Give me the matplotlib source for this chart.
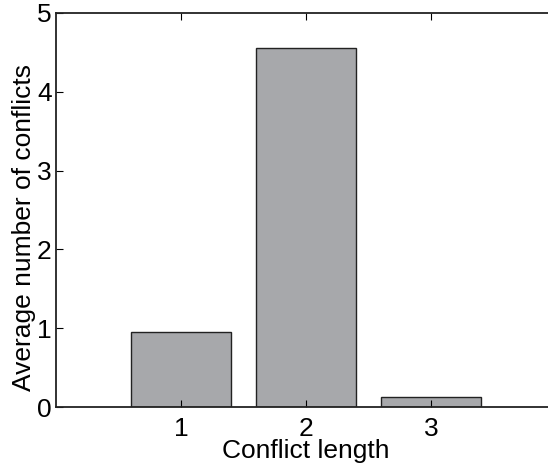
import matplotlib.pyplot as plt

# conflict length vs average number of conflicts
lengths = [1, 2, 3]
avg_conflicts = [0.955, 4.55, 0.127]
yticks = [0, 1, 2, 3, 4, 5]

plt.rcParams['font.family'] = ['Liberation Sans', 'DejaVu Sans']

fig = plt.figure(figsize=(5.48, 4.69), dpi=100)
# axes runs a bit past the right edge, like the cropped original
ax = fig.add_axes([56 / 548, 1 - 407 / 469, 500 / 548, 394 / 469])

ax.bar(lengths, avg_conflicts, width=0.8, color='#a7a8ab', edgecolor='#222222', linewidth=1.0)

ax.set_xlim(0, 4)
ax.set_ylim(0, 5)
ax.set_xticks(lengths)
ax.set_yticks(yticks)
ax.tick_params(direction='in', length=5, labelsize=19, top=True, right=True, width=0.8)
ax.tick_params(axis='y', pad=3)
ax.tick_params(axis='x', pad=7)
for s in ax.spines.values():
    s.set_linewidth(1.3)
    s.set_color('#222222')

ax.set_xlabel('Conflict length', fontsize=19, labelpad=-1)
ax.set_ylabel('Average number of conflicts', fontsize=19)
# label sits a bit low in the original, close to the tick labels
ax.yaxis.set_label_coords(-0.04, 0.455)

plt.savefig('out.png', dpi=100)
